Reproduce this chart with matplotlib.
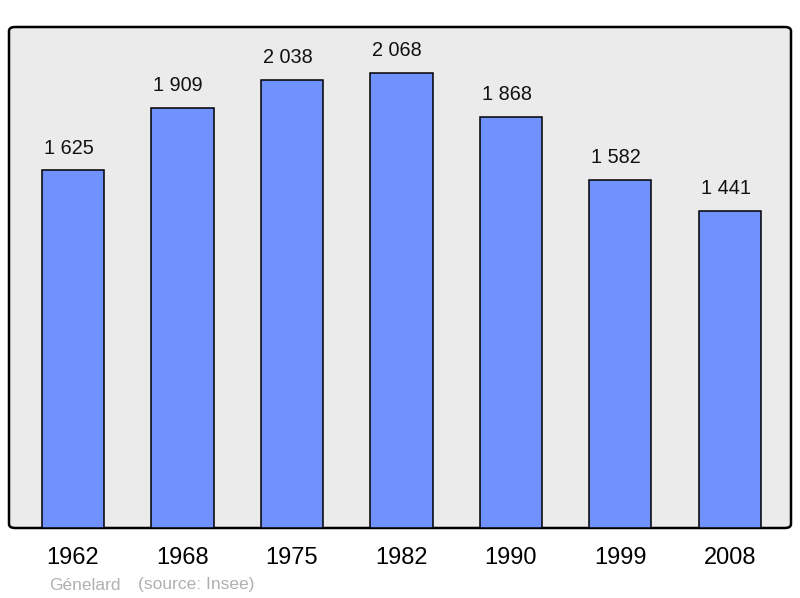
import matplotlib.pyplot as plt
from matplotlib.patches import FancyBboxPatch

plt.rcParams['font.family'] = ['Liberation Sans', 'DejaVu Sans']

years = ["1962", "1968", "1975", "1982", "1990", "1999", "2008"]
population = [1625, 1909, 2038, 2068, 1868, 1582, 1441]
labels = ["1 625", "1 909", "2 038", "2 068", "1 868", "1 582", "1 441"]

fig = plt.figure(figsize=(8, 5.98), dpi=100)
ax = fig.add_axes([9 / 800, 70 / 598, 782 / 800, 501 / 598])
ax.set_facecolor("none")

# rounded grey frame
frame = FancyBboxPatch((0, 0), 1, 1, boxstyle="round,pad=0,rounding_size=0.008",
                       transform=ax.transAxes, facecolor="#ebebeb",
                       edgecolor="black", linewidth=1.8, clip_on=False, zorder=0)
ax.add_patch(frame)

x = list(range(len(years)))
bars = ax.bar(x, population, width=0.57, color="#7092ff", edgecolor="black",
              linewidth=1.1, zorder=2)
for xi, v, lab in zip(x, population, labels):
    ax.annotate(lab, (xi, v), xytext=(-3, 9), textcoords="offset points",
                ha="center", va="bottom", fontsize=14.3, color="#111111")

ax.set_xlim(-0.585, 6.56)
ax.set_ylim(0, 2277)
ax.set_yticks([])
ax.set_xticks(x)
ax.set_xticklabels(years, fontsize=17)
ax.tick_params(axis="x", length=0, pad=14)
for s in ax.spines.values():
    s.set_visible(False)

fig.text(49 / 800, 1 - 585 / 598, "Génelard", fontsize=12.5, color="#b0b0b0",
         va="center", ha="left")
fig.text(138 / 800, 1 - 585 / 598, "(source: Insee)", fontsize=12.5, color="#b0b0b0",
         va="center", ha="left")

fig.savefig("out.png", dpi=100)
